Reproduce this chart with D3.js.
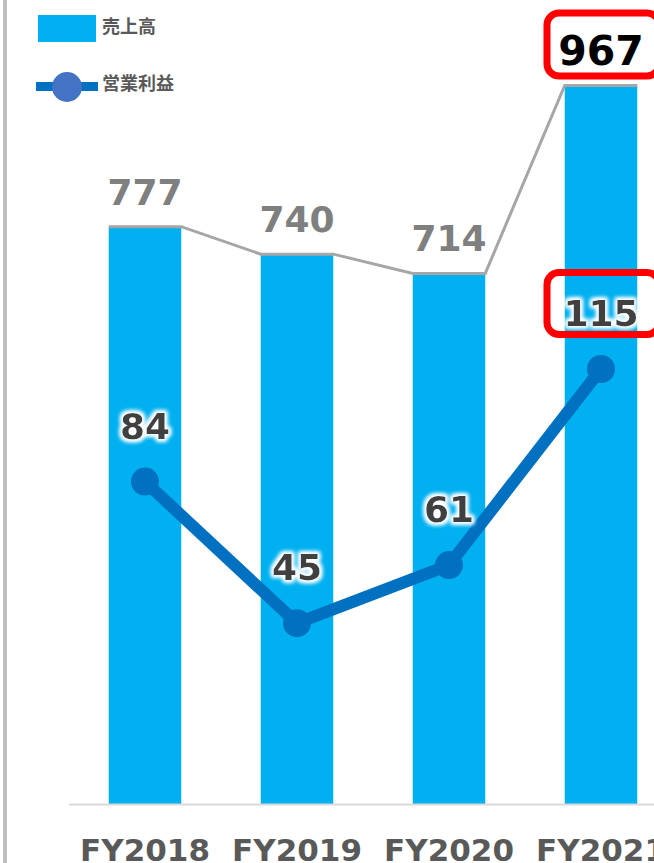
<!DOCTYPE html>
<html>
<head>
<meta charset="utf-8">
<script src="https://cdn.jsdelivr.net/npm/d3@7"></script>
<style>
  html, body { margin: 0; padding: 0; background: #fff; overflow: hidden; }
  svg { display: block; }
</style>
</head>
<body>
<div id="chart"></div>
<script>
// ---- data ----
const categories = ["FY2018", "FY2019", "FY2020", "FY2021"];
const sales = [777, 740, 714, 967];          // 売上高
const operatingProfit = [84, 45, 61, 115];   // 営業利益
const legendLabels = ["売上高", "営業利益"];
const highlighted = ["FY2021"];

// ---- layout ----
const W = 654, H = 863;
const numFont = "'DejaVu Sans', Verdana, sans-serif";
const jpFont = "'Noto Sans CJK JP', 'Noto Sans', sans-serif";

const svg = d3.select("#chart").append("svg")
  .attr("width", W).attr("height", H);

const defs = svg.append("defs");
const glow = defs.append("filter").attr("id", "glow")
  .attr("x", "-30%").attr("y", "-30%").attr("width", "160%").attr("height", "160%");
glow.append("feMorphology").attr("in", "SourceAlpha").attr("operator", "dilate").attr("radius", 1.5).attr("result", "d");
glow.append("feGaussianBlur").attr("in", "d").attr("stdDeviation", 2).attr("result", "b");
glow.append("feFlood").attr("flood-color", "#ffffff").attr("result", "f");
glow.append("feComposite").attr("in", "f").attr("in2", "b").attr("operator", "in").attr("result", "g");
const merge = glow.append("feMerge");
merge.append("feMergeNode").attr("in", "g");
merge.append("feMergeNode").attr("in", "g");
merge.append("feMergeNode").attr("in", "SourceGraphic");

// left border
svg.append("rect").attr("x", 3).attr("y", 0).attr("width", 4).attr("height", H).attr("fill", "#bfbfbf");

// scales
const x = d3.scaleBand().domain(categories).range([69, 677])
  .paddingInner(0.523).paddingOuter(0.2615);
const y = d3.scaleLinear().domain([0, 1082]).range([804, 0]);
const y2 = d3.scaleLinear().domain([-4.78, 216.6]).range([804, 0]);

// bars
svg.append("g").selectAll("rect").data(categories).join("rect")
  .attr("x", d => x(d))
  .attr("y", (d, i) => y(sales[i]))
  .attr("width", x.bandwidth())
  .attr("height", (d, i) => y(0) - y(sales[i]))
  .attr("fill", "#00b0f0");

// baseline
svg.append("line").attr("x1", 69).attr("x2", 677).attr("y1", 804.5).attr("y2", 804.5)
  .attr("stroke", "#d9d9d9").attr("stroke-width", 2);

// gray bar-top connector
const topPts = [];
categories.forEach((c, i) => {
  topPts.push([x(c), y(sales[i])]);
  topPts.push([x(c) + x.bandwidth(), y(sales[i])]);
});
svg.append("path").attr("d", d3.line()(topPts))
  .attr("fill", "none").attr("stroke", "#a6a6a6").attr("stroke-width", 3);

// sales labels
svg.append("g").selectAll("text").data(categories).join("text")
  .attr("x", d => x(d) + x.bandwidth() / 2)
  .attr("y", (d, i) => highlighted.includes(d) ? 65 : y(sales[i]) - 22)
  .attr("text-anchor", "middle")
  .attr("font-family", numFont).attr("font-weight", "bold")
  .attr("font-size", d => highlighted.includes(d) ? 41 : 36)
  .attr("fill", d => highlighted.includes(d) ? "#000000" : "#7f7f7f")
  .text((d, i) => sales[i]);

// profit line
const cx = d => x(d) + x.bandwidth() / 2;
svg.append("path")
  .attr("d", d3.line().x(d => cx(d)).y((d, i) => y2(operatingProfit[i]))(categories))
  .attr("fill", "none").attr("stroke", "#0070c0").attr("stroke-width", 12)
  .attr("stroke-linejoin", "round");
svg.append("g").selectAll("circle").data(categories).join("circle")
  .attr("cx", cx).attr("cy", (d, i) => y2(operatingProfit[i]))
  .attr("r", 14).attr("fill", "#0070c0");

// profit labels
svg.append("g").selectAll("text").data(categories).join("text")
  .attr("x", cx)
  .attr("y", (d, i) => y2(operatingProfit[i]) - 43)
  .attr("text-anchor", "middle")
  .attr("font-family", numFont).attr("font-weight", "bold").attr("font-size", 36)
  .attr("fill", "#404040").attr("filter", "url(#glow)")
  .text((d, i) => operatingProfit[i]);

// highlight boxes
svg.append("rect").attr("x", 547).attr("y", 13).attr("width", 112).attr("height", 63)
  .attr("rx", 12).attr("fill", "none").attr("stroke", "#ff0000").attr("stroke-width", 7);
svg.append("rect").attr("x", 547).attr("y", 272.5).attr("width", 112).attr("height", 62)
  .attr("rx", 12).attr("fill", "none").attr("stroke", "#ff0000").attr("stroke-width", 7);

// x axis labels
svg.append("g").selectAll("text").data(categories).join("text")
  .attr("x", cx).attr("y", 861)
  .attr("text-anchor", "middle")
  .attr("font-family", numFont).attr("font-weight", "bold").attr("font-size", 31)
  .attr("fill", "#595959")
  .text(d => d);

// legend
const lg = svg.append("g");
lg.append("rect").attr("x", 38).attr("y", 15).attr("width", 58).attr("height", 27).attr("fill", "#00b0f0");
lg.append("line").attr("x1", 36).attr("x2", 98).attr("y1", 86.5).attr("y2", 86.5)
  .attr("stroke", "#0070c0").attr("stroke-width", 9);
lg.append("circle").attr("cx", 67).attr("cy", 87).attr("r", 15).attr("fill", "#4472c4");
lg.selectAll("text").data(legendLabels).join("text")
  .attr("x", 102).attr("y", (d, i) => i === 0 ? 27 : 84)
  .attr("dy", "0.35em")
  .attr("font-family", jpFont).attr("font-weight", "bold").attr("font-size", 18)
  .attr("fill", "#595959")
  .text(d => d);
</script>
</body>
</html>
